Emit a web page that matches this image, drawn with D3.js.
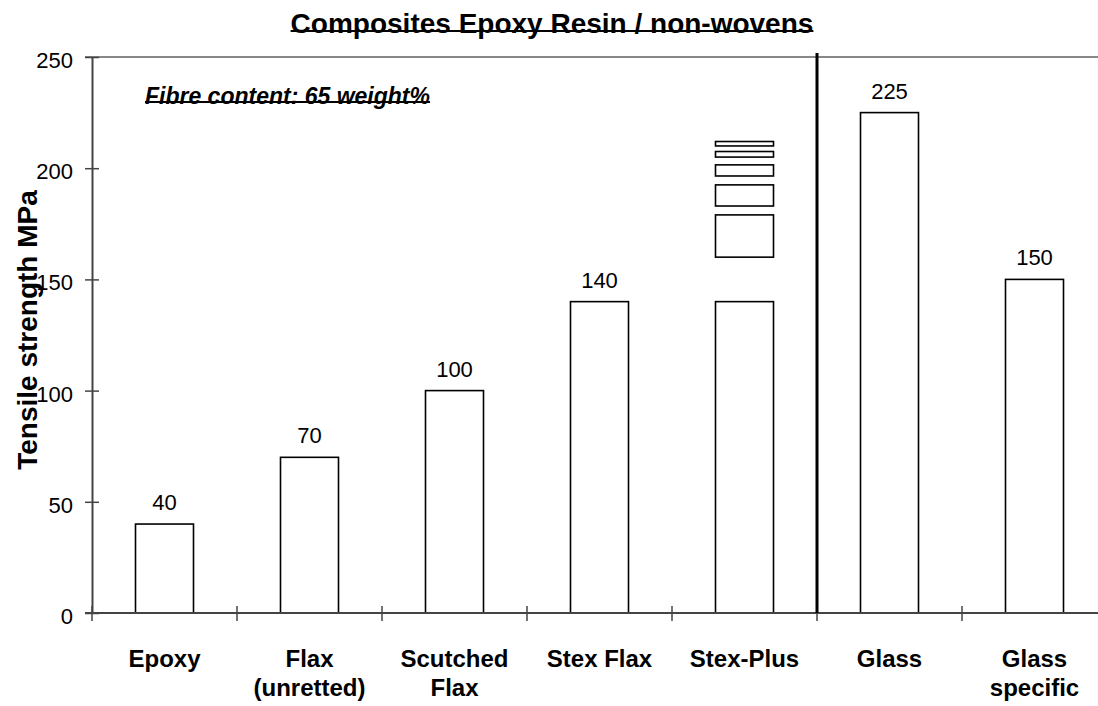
<!DOCTYPE html>
<html>
<head>
<meta charset="utf-8">
<script src="https://cdn.jsdelivr.net/npm/d3@7"></script>
<style>
  html, body { margin: 0; padding: 0; background: #fff; }
  svg { display: block; font-family: "Liberation Sans", Arial, sans-serif; }
</style>
</head>
<body>
<svg id="chart" width="1098" height="706"></svg>
<script>
// Tensile strength of epoxy composites (MPa)
const categories = ["Epoxy", "Flax (unretted)", "Scutched Flax", "Stex Flax", "Stex-Plus", "Glass", "Glass specific"];
const labelLines = [["Epoxy"], ["Flax", "(unretted)"], ["Scutched", "Flax"], ["Stex Flax"], ["Stex-Plus"], ["Glass"], ["Glass", "specific"]];
const strength = [40, 70, 100, 140, 140, 225, 150];
const valueLabels = ["40", "70", "100", "140", "", "225", "150"];
// Additional strength ranges stacked above the Stex-Plus bar
const stexPlusLow = [160, 183, 196.5, 205, 210];
const stexPlusHigh = [179, 192.5, 201.5, 207.5, 212];
const yTicks = [0, 50, 100, 150, 200, 250];
const dividerBefore = "Glass";

const svg = d3.select("#chart");
const plotLeft = 92, plotRight = 1107, plotTop = 57, plotBottom = 613;

const x = d3.scaleBand().domain(categories).range([plotLeft, plotRight]).padding(0);
const y = d3.scaleLinear().domain([0, 250]).range([plotBottom, plotTop]);
const bw = x.bandwidth();

// Title
const title = svg.append("text")
  .attr("x", 552).attr("y", 33)
  .attr("text-anchor", "middle")
  .attr("font-size", 28).attr("font-weight", "bold")
  .text("Composites Epoxy Resin / non-wovens");
const tb = title.node().getBBox();
svg.append("line")
  .attr("x1", tb.x).attr("x2", tb.x + tb.width)
  .attr("y1", 31).attr("y2", 31)
  .attr("stroke", "#000").attr("stroke-width", 2);

// Top frame line
svg.append("line")
  .attr("x1", plotLeft - 7).attr("x2", 1098)
  .attr("y1", y(250)).attr("y2", y(250))
  .attr("stroke", "#888").attr("stroke-width", 2);

// Bars
svg.append("g").selectAll("rect")
  .data(categories)
  .join("rect")
  .attr("x", (d) => x(d) + bw * 0.3)
  .attr("width", bw * 0.4)
  .attr("y", (d, i) => y(strength[i]))
  .attr("height", (d, i) => y(0) - y(strength[i]))
  .attr("fill", "#fff").attr("stroke", "#000").attr("stroke-width", 1.6);

// Stex-Plus ranges
svg.append("g").selectAll("rect")
  .data(stexPlusLow)
  .join("rect")
  .attr("x", x("Stex-Plus") + bw * 0.3)
  .attr("width", bw * 0.4)
  .attr("y", (d, i) => y(stexPlusHigh[i]))
  .attr("height", (d, i) => y(d) - y(stexPlusHigh[i]))
  .attr("fill", "#fff").attr("stroke", "#000").attr("stroke-width", 1.6);

// Value labels
svg.append("g").selectAll("text")
  .data(categories)
  .join("text")
  .attr("x", (d) => x(d) + bw / 2)
  .attr("y", (d, i) => y(strength[i]) - 14)
  .attr("text-anchor", "middle")
  .attr("font-size", 22)
  .text((d, i) => valueLabels[i]);

// Y axis
const yAxis = svg.append("g")
  .attr("transform", `translate(${plotLeft},0)`)
  .call(d3.axisLeft(y).tickValues(yTicks).tickSize(7).tickPadding(12).tickSizeOuter(0));
yAxis.select(".domain").attr("stroke", "#444").attr("stroke-width", 2);
yAxis.selectAll(".tick line").attr("x1", 7).attr("x2", -7).attr("stroke", "#444").attr("stroke-width", 1.5);
yAxis.selectAll(".tick text")
  .attr("font-size", 22).attr("font-family", "Liberation Sans, Arial, sans-serif")
  .attr("fill", "#000").attr("dy", "0.48em").attr("x", -19);

// X axis
svg.append("line")
  .attr("x1", plotLeft - 7).attr("x2", 1098)
  .attr("y1", y(0)).attr("y2", y(0))
  .attr("stroke", "#444").attr("stroke-width", 2);
svg.append("g").selectAll("line")
  .data(categories)
  .join("line")
  .attr("x1", (d) => x(d)).attr("x2", (d) => x(d))
  .attr("y1", y(0) - 7).attr("y2", y(0) + 8)
  .attr("stroke", "#444").attr("stroke-width", 1.5);

// Category labels
const catText = svg.append("g").selectAll("text")
  .data(categories)
  .join("text")
  .attr("x", (d) => x(d) + bw / 2)
  .attr("y", 667)
  .attr("text-anchor", "middle")
  .attr("font-size", 24).attr("font-weight", "bold");
catText.each(function (d, i) {
  const t = d3.select(this);
  labelLines[i].forEach((line, j) => {
    t.append("tspan").attr("x", x(d) + bw / 2).attr("dy", j === 0 ? 0 : 29).text(line);
  });
});

// Divider between natural fibre and glass composites
svg.append("line")
  .attr("x1", x(dividerBefore)).attr("x2", x(dividerBefore))
  .attr("y1", y(250) - 4).attr("y2", y(0))
  .attr("stroke", "#000").attr("stroke-width", 3);

// Y axis title
svg.append("text")
  .attr("transform", `translate(37,${(plotTop + plotBottom) / 2 - 5}) rotate(-90)`)
  .attr("text-anchor", "middle")
  .attr("font-size", 28).attr("font-weight", "bold")
  .text("Tensile strength MPa");

// Annotation
const note = svg.append("text")
  .attr("x", 145).attr("y", 104)
  .attr("font-size", 23).attr("font-weight", "bold").attr("font-style", "italic")
  .text("Fibre content: 65 weight%");
const nb = note.node().getBBox();
svg.append("line")
  .attr("x1", nb.x).attr("x2", nb.x + nb.width)
  .attr("y1", 102).attr("y2", 102)
  .attr("stroke", "#000").attr("stroke-width", 2);
</script>
</body>
</html>
